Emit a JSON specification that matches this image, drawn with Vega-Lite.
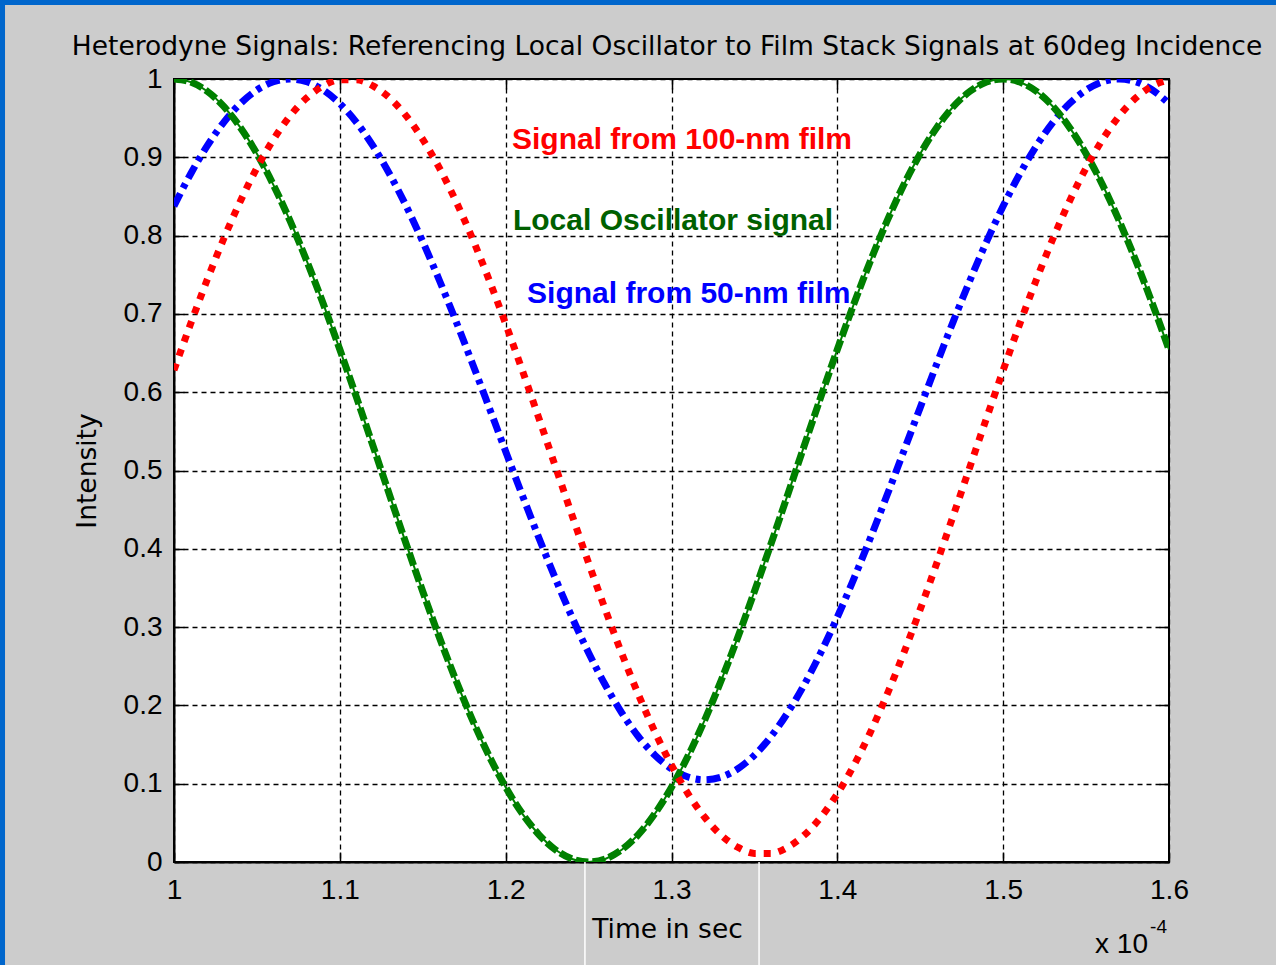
{
  "$schema": "https://vega.github.io/schema/vega-lite/v6.json",
  "width": 995,
  "height": 783,
  "autosize": {"type": "none"},
  "padding": {"left": 174, "top": 79, "right": 107, "bottom": 103},
  "background": "#cccccc",
  "config": {
    "view": {"fill": "white", "stroke": "black", "strokeWidth": 2},
    "axis": {
      "domainColor": "black",
      "domainWidth": 2,
      "tickColor": "black",
      "tickWidth": 1.5,
      "tickSize": -10,
      "labelColor": "black",
      "labelFont": "Liberation Sans",
      "labelFontSize": 28,
      "labelFlush": false,
      "labelOverlap": false,
      "titleColor": "black",
      "titleFont": "DejaVu Sans",
      "titleFontSize": 26.5,
      "titleFontWeight": "normal",
      "gridColor": "black",
      "gridOpacity": 1,
      "gridWidth": 1.3,
      "gridDash": [5, 4]
    }
  },
  "datasets": {
    "curves": [
      {"time":1.00,"series":"Local Oscillator","intensity":1.0},
      {"time":1.01,"series":"Local Oscillator","intensity":0.9961},
      {"time":1.02,"series":"Local Oscillator","intensity":0.9843},
      {"time":1.03,"series":"Local Oscillator","intensity":0.9649},
      {"time":1.04,"series":"Local Oscillator","intensity":0.9382},
      {"time":1.05,"series":"Local Oscillator","intensity":0.9045},
      {"time":1.06,"series":"Local Oscillator","intensity":0.8645},
      {"time":1.07,"series":"Local Oscillator","intensity":0.8187},
      {"time":1.08,"series":"Local Oscillator","intensity":0.7679},
      {"time":1.09,"series":"Local Oscillator","intensity":0.7129},
      {"time":1.10,"series":"Local Oscillator","intensity":0.6545},
      {"time":1.11,"series":"Local Oscillator","intensity":0.5937},
      {"time":1.12,"series":"Local Oscillator","intensity":0.5314},
      {"time":1.13,"series":"Local Oscillator","intensity":0.4686},
      {"time":1.14,"series":"Local Oscillator","intensity":0.4063},
      {"time":1.15,"series":"Local Oscillator","intensity":0.3455},
      {"time":1.16,"series":"Local Oscillator","intensity":0.2871},
      {"time":1.17,"series":"Local Oscillator","intensity":0.2321},
      {"time":1.18,"series":"Local Oscillator","intensity":0.1813},
      {"time":1.19,"series":"Local Oscillator","intensity":0.1355},
      {"time":1.20,"series":"Local Oscillator","intensity":0.0955},
      {"time":1.21,"series":"Local Oscillator","intensity":0.0618},
      {"time":1.22,"series":"Local Oscillator","intensity":0.0351},
      {"time":1.23,"series":"Local Oscillator","intensity":0.0157},
      {"time":1.24,"series":"Local Oscillator","intensity":0.0039},
      {"time":1.25,"series":"Local Oscillator","intensity":0.0},
      {"time":1.26,"series":"Local Oscillator","intensity":0.0039},
      {"time":1.27,"series":"Local Oscillator","intensity":0.0157},
      {"time":1.28,"series":"Local Oscillator","intensity":0.0351},
      {"time":1.29,"series":"Local Oscillator","intensity":0.0618},
      {"time":1.30,"series":"Local Oscillator","intensity":0.0955},
      {"time":1.31,"series":"Local Oscillator","intensity":0.1355},
      {"time":1.32,"series":"Local Oscillator","intensity":0.1813},
      {"time":1.33,"series":"Local Oscillator","intensity":0.2321},
      {"time":1.34,"series":"Local Oscillator","intensity":0.2871},
      {"time":1.35,"series":"Local Oscillator","intensity":0.3455},
      {"time":1.36,"series":"Local Oscillator","intensity":0.4063},
      {"time":1.37,"series":"Local Oscillator","intensity":0.4686},
      {"time":1.38,"series":"Local Oscillator","intensity":0.5314},
      {"time":1.39,"series":"Local Oscillator","intensity":0.5937},
      {"time":1.40,"series":"Local Oscillator","intensity":0.6545},
      {"time":1.41,"series":"Local Oscillator","intensity":0.7129},
      {"time":1.42,"series":"Local Oscillator","intensity":0.7679},
      {"time":1.43,"series":"Local Oscillator","intensity":0.8187},
      {"time":1.44,"series":"Local Oscillator","intensity":0.8645},
      {"time":1.45,"series":"Local Oscillator","intensity":0.9045},
      {"time":1.46,"series":"Local Oscillator","intensity":0.9382},
      {"time":1.47,"series":"Local Oscillator","intensity":0.9649},
      {"time":1.48,"series":"Local Oscillator","intensity":0.9843},
      {"time":1.49,"series":"Local Oscillator","intensity":0.9961},
      {"time":1.50,"series":"Local Oscillator","intensity":1.0},
      {"time":1.51,"series":"Local Oscillator","intensity":0.9961},
      {"time":1.52,"series":"Local Oscillator","intensity":0.9843},
      {"time":1.53,"series":"Local Oscillator","intensity":0.9649},
      {"time":1.54,"series":"Local Oscillator","intensity":0.9382},
      {"time":1.55,"series":"Local Oscillator","intensity":0.9045},
      {"time":1.56,"series":"Local Oscillator","intensity":0.8645},
      {"time":1.57,"series":"Local Oscillator","intensity":0.8187},
      {"time":1.58,"series":"Local Oscillator","intensity":0.7679},
      {"time":1.59,"series":"Local Oscillator","intensity":0.7129},
      {"time":1.60,"series":"Local Oscillator","intensity":0.6545},
      {"time":1.00,"series":"100-nm film","intensity":0.6281},
      {"time":1.01,"series":"100-nm film","intensity":0.6872},
      {"time":1.02,"series":"100-nm film","intensity":0.7435},
      {"time":1.03,"series":"100-nm film","intensity":0.7960},
      {"time":1.04,"series":"100-nm film","intensity":0.8439},
      {"time":1.05,"series":"100-nm film","intensity":0.8864},
      {"time":1.06,"series":"100-nm film","intensity":0.9229},
      {"time":1.07,"series":"100-nm film","intensity":0.9529},
      {"time":1.08,"series":"100-nm film","intensity":0.9758},
      {"time":1.09,"series":"100-nm film","intensity":0.9912},
      {"time":1.10,"series":"100-nm film","intensity":0.9990},
      {"time":1.11,"series":"100-nm film","intensity":0.9990},
      {"time":1.12,"series":"100-nm film","intensity":0.9912},
      {"time":1.13,"series":"100-nm film","intensity":0.9758},
      {"time":1.14,"series":"100-nm film","intensity":0.9529},
      {"time":1.15,"series":"100-nm film","intensity":0.9229},
      {"time":1.16,"series":"100-nm film","intensity":0.8864},
      {"time":1.17,"series":"100-nm film","intensity":0.8439},
      {"time":1.18,"series":"100-nm film","intensity":0.7960},
      {"time":1.19,"series":"100-nm film","intensity":0.7435},
      {"time":1.20,"series":"100-nm film","intensity":0.6872},
      {"time":1.21,"series":"100-nm film","intensity":0.6281},
      {"time":1.22,"series":"100-nm film","intensity":0.5670},
      {"time":1.23,"series":"100-nm film","intensity":0.5050},
      {"time":1.24,"series":"100-nm film","intensity":0.4430},
      {"time":1.25,"series":"100-nm film","intensity":0.3819},
      {"time":1.26,"series":"100-nm film","intensity":0.3228},
      {"time":1.27,"series":"100-nm film","intensity":0.2665},
      {"time":1.28,"series":"100-nm film","intensity":0.2140},
      {"time":1.29,"series":"100-nm film","intensity":0.1661},
      {"time":1.30,"series":"100-nm film","intensity":0.1236},
      {"time":1.31,"series":"100-nm film","intensity":0.0871},
      {"time":1.32,"series":"100-nm film","intensity":0.0571},
      {"time":1.33,"series":"100-nm film","intensity":0.0342},
      {"time":1.34,"series":"100-nm film","intensity":0.0188},
      {"time":1.35,"series":"100-nm film","intensity":0.0110},
      {"time":1.36,"series":"100-nm film","intensity":0.0110},
      {"time":1.37,"series":"100-nm film","intensity":0.0188},
      {"time":1.38,"series":"100-nm film","intensity":0.0342},
      {"time":1.39,"series":"100-nm film","intensity":0.0571},
      {"time":1.40,"series":"100-nm film","intensity":0.0871},
      {"time":1.41,"series":"100-nm film","intensity":0.1236},
      {"time":1.42,"series":"100-nm film","intensity":0.1661},
      {"time":1.43,"series":"100-nm film","intensity":0.2140},
      {"time":1.44,"series":"100-nm film","intensity":0.2665},
      {"time":1.45,"series":"100-nm film","intensity":0.3228},
      {"time":1.46,"series":"100-nm film","intensity":0.3819},
      {"time":1.47,"series":"100-nm film","intensity":0.4430},
      {"time":1.48,"series":"100-nm film","intensity":0.5050},
      {"time":1.49,"series":"100-nm film","intensity":0.5670},
      {"time":1.50,"series":"100-nm film","intensity":0.6281},
      {"time":1.51,"series":"100-nm film","intensity":0.6872},
      {"time":1.52,"series":"100-nm film","intensity":0.7435},
      {"time":1.53,"series":"100-nm film","intensity":0.7960},
      {"time":1.54,"series":"100-nm film","intensity":0.8439},
      {"time":1.55,"series":"100-nm film","intensity":0.8864},
      {"time":1.56,"series":"100-nm film","intensity":0.9229},
      {"time":1.57,"series":"100-nm film","intensity":0.9529},
      {"time":1.58,"series":"100-nm film","intensity":0.9758},
      {"time":1.59,"series":"100-nm film","intensity":0.9912},
      {"time":1.60,"series":"100-nm film","intensity":0.9990},
      {"time":1.00,"series":"50-nm film","intensity":0.8377},
      {"time":1.01,"series":"50-nm film","intensity":0.8787},
      {"time":1.02,"series":"50-nm film","intensity":0.9145},
      {"time":1.03,"series":"50-nm film","intensity":0.9447},
      {"time":1.04,"series":"50-nm film","intensity":0.9686},
      {"time":1.05,"series":"50-nm film","intensity":0.9859},
      {"time":1.06,"series":"50-nm film","intensity":0.9965},
      {"time":1.07,"series":"50-nm film","intensity":1.0},
      {"time":1.08,"series":"50-nm film","intensity":0.9965},
      {"time":1.09,"series":"50-nm film","intensity":0.9859},
      {"time":1.10,"series":"50-nm film","intensity":0.9686},
      {"time":1.11,"series":"50-nm film","intensity":0.9447},
      {"time":1.12,"series":"50-nm film","intensity":0.9145},
      {"time":1.13,"series":"50-nm film","intensity":0.8787},
      {"time":1.14,"series":"50-nm film","intensity":0.8377},
      {"time":1.15,"series":"50-nm film","intensity":0.7923},
      {"time":1.16,"series":"50-nm film","intensity":0.7430},
      {"time":1.17,"series":"50-nm film","intensity":0.6908},
      {"time":1.18,"series":"50-nm film","intensity":0.6364},
      {"time":1.19,"series":"50-nm film","intensity":0.5806},
      {"time":1.20,"series":"50-nm film","intensity":0.5244},
      {"time":1.21,"series":"50-nm film","intensity":0.4686},
      {"time":1.22,"series":"50-nm film","intensity":0.4142},
      {"time":1.23,"series":"50-nm film","intensity":0.3620},
      {"time":1.24,"series":"50-nm film","intensity":0.3127},
      {"time":1.25,"series":"50-nm film","intensity":0.2673},
      {"time":1.26,"series":"50-nm film","intensity":0.2263},
      {"time":1.27,"series":"50-nm film","intensity":0.1905},
      {"time":1.28,"series":"50-nm film","intensity":0.1603},
      {"time":1.29,"series":"50-nm film","intensity":0.1364},
      {"time":1.30,"series":"50-nm film","intensity":0.1191},
      {"time":1.31,"series":"50-nm film","intensity":0.1085},
      {"time":1.32,"series":"50-nm film","intensity":0.1050},
      {"time":1.33,"series":"50-nm film","intensity":0.1085},
      {"time":1.34,"series":"50-nm film","intensity":0.1191},
      {"time":1.35,"series":"50-nm film","intensity":0.1364},
      {"time":1.36,"series":"50-nm film","intensity":0.1603},
      {"time":1.37,"series":"50-nm film","intensity":0.1905},
      {"time":1.38,"series":"50-nm film","intensity":0.2263},
      {"time":1.39,"series":"50-nm film","intensity":0.2673},
      {"time":1.40,"series":"50-nm film","intensity":0.3127},
      {"time":1.41,"series":"50-nm film","intensity":0.3620},
      {"time":1.42,"series":"50-nm film","intensity":0.4142},
      {"time":1.43,"series":"50-nm film","intensity":0.4686},
      {"time":1.44,"series":"50-nm film","intensity":0.5244},
      {"time":1.45,"series":"50-nm film","intensity":0.5806},
      {"time":1.46,"series":"50-nm film","intensity":0.6364},
      {"time":1.47,"series":"50-nm film","intensity":0.6908},
      {"time":1.48,"series":"50-nm film","intensity":0.7430},
      {"time":1.49,"series":"50-nm film","intensity":0.7923},
      {"time":1.50,"series":"50-nm film","intensity":0.8377},
      {"time":1.51,"series":"50-nm film","intensity":0.8787},
      {"time":1.52,"series":"50-nm film","intensity":0.9145},
      {"time":1.53,"series":"50-nm film","intensity":0.9447},
      {"time":1.54,"series":"50-nm film","intensity":0.9686},
      {"time":1.55,"series":"50-nm film","intensity":0.9859},
      {"time":1.56,"series":"50-nm film","intensity":0.9965},
      {"time":1.57,"series":"50-nm film","intensity":1.0},
      {"time":1.58,"series":"50-nm film","intensity":0.9965},
      {"time":1.59,"series":"50-nm film","intensity":0.9859},
      {"time":1.60,"series":"50-nm film","intensity":0.9686}
    ],
    "notes": [
      {"time":1.2038,"intensity":0.9106,"series":"100-nm film","label":"Signal from 100-nm film"},
      {"time":1.2044,"intensity":0.8072,"series":"Local Oscillator","label":"Local Oscillator signal"},
      {"time":1.2129,"intensity":0.7139,"series":"50-nm film","label":"Signal from 50-nm film"}
    ]
  },
  "resolve": {"axis": {"x": "independent", "y": "independent"}},
  "layer": [
    {
      "data": {"name": "curves"},
      "transform": [{"filter": "datum.series === '50-nm film'"}],
      "mark": {"type": "line", "color": "#0000ff", "strokeWidth": 7, "strokeDash": [14, 6, 5, 6], "strokeCap": "butt", "clip": true, "interpolate": "monotone"},
      "encoding": {
        "x": {"field": "time", "type": "quantitative", "scale": {"domain": [1, 1.6], "nice": false, "zero": false},
          "axis": {"orient": "bottom", "values": [1, 1.1, 1.2, 1.3, 1.4, 1.5, 1.6], "format": "~g", "grid": true, "labelPadding": 24, "title": "Time in sec", "titleY": 75, "titleX": 493, "titleBaseline": "alphabetic"}},
        "y": {"field": "intensity", "type": "quantitative", "scale": {"domain": [0, 1], "nice": false, "zero": false},
          "axis": {"orient": "left", "values": [0, 0.1, 0.2, 0.3, 0.4, 0.5, 0.6, 0.7, 0.8, 0.9, 1], "format": "~g", "grid": true, "labelPadding": 22, "title": "Intensity", "titleX": -79, "titleBaseline": "alphabetic"}}
      }
    },
    {
      "data": {"name": "curves"},
      "transform": [{"filter": "datum.series === 'Local Oscillator'"}],
      "mark": {"type": "line", "color": "#008000", "strokeWidth": 2, "clip": true, "interpolate": "monotone"},
      "encoding": {
        "x": {"field": "time", "type": "quantitative",
          "axis": {"orient": "top", "values": [1, 1.1, 1.2, 1.3, 1.4, 1.5, 1.6], "labels": false, "grid": false, "domain": false, "title": null}},
        "y": {"field": "intensity", "type": "quantitative",
          "axis": {"orient": "right", "values": [0, 0.1, 0.2, 0.3, 0.4, 0.5, 0.6, 0.7, 0.8, 0.9, 1], "labels": false, "grid": false, "domain": false, "title": null}}
      }
    },
    {
      "data": {"name": "curves"},
      "transform": [{"filter": "datum.series === 'Local Oscillator'"}],
      "mark": {"type": "line", "color": "#008000", "strokeWidth": 7, "strokeDash": [13, 4], "strokeCap": "butt", "clip": true, "interpolate": "monotone"},
      "encoding": {
        "x": {"field": "time", "type": "quantitative", "axis": null},
        "y": {"field": "intensity", "type": "quantitative", "axis": null}
      }
    },
    {
      "data": {"name": "curves"},
      "transform": [{"filter": "datum.series === '100-nm film'"}],
      "mark": {"type": "line", "color": "#ff0000", "strokeWidth": 7, "strokeDash": [7, 8], "strokeCap": "butt", "clip": true, "interpolate": "monotone"},
      "encoding": {
        "x": {"field": "time", "type": "quantitative", "axis": null},
        "y": {"field": "intensity", "type": "quantitative", "axis": null}
      }
    },
    {
      "data": {"name": "notes"},
      "mark": {"type": "text", "font": "Liberation Sans", "fontSize": 30, "fontWeight": "bold", "align": "left", "baseline": "alphabetic"},
      "encoding": {
        "x": {"field": "time", "type": "quantitative", "axis": null},
        "y": {"field": "intensity", "type": "quantitative", "axis": null},
        "text": {"field": "label"},
        "color": {"field": "series", "type": "nominal", "legend": null,
          "scale": {"domain": ["100-nm film", "Local Oscillator", "50-nm film"], "range": ["#ff0000", "#006000", "#0000ff"]}}
      }
    },
    {
      "data": {"values": [{"label": "Heterodyne Signals: Referencing Local Oscillator to Film Stack Signals at 60deg Incidence"}]},
      "mark": {"type": "text", "font": "DejaVu Sans", "fontSize": 26.5, "align": "center", "baseline": "alphabetic", "color": "black", "clip": false},
      "encoding": {
        "x": {"datum": 1.2973, "type": "quantitative", "axis": null},
        "y": {"datum": 1.0307, "type": "quantitative", "axis": null},
        "text": {"field": "label"}
      }
    },
    {
      "data": {"values": [{"label": "x 10"}]},
      "mark": {"type": "text", "font": "Liberation Sans", "fontSize": 28, "align": "left", "baseline": "alphabetic", "color": "black", "clip": false},
      "encoding": {
        "x": {"datum": 1.5554, "type": "quantitative", "axis": null},
        "y": {"datum": -0.1162, "type": "quantitative", "axis": null},
        "text": {"field": "label"}
      }
    },
    {
      "data": {"values": [{"label": "-4"}]},
      "mark": {"type": "text", "font": "Liberation Sans", "fontSize": 19, "align": "left", "baseline": "alphabetic", "color": "black", "clip": false},
      "encoding": {
        "x": {"datum": 1.5886, "type": "quantitative", "axis": null},
        "y": {"datum": -0.0907, "type": "quantitative", "axis": null},
        "text": {"field": "label"}
      }
    },
    {
      "data": {"values": [{"time": 1.2478}, {"time": 1.3528}]},
      "mark": {"type": "rule", "color": "white", "strokeWidth": 1.5, "clip": false},
      "encoding": {
        "x": {"field": "time", "type": "quantitative", "axis": null},
        "y": {"datum": 0, "type": "quantitative", "axis": null},
        "y2": {"datum": -0.1316}
      }
    },
    {
      "data": {"values": [{"edge": "left"}]},
      "mark": {"type": "rect", "color": "#0066cc", "clip": false},
      "encoding": {
        "x": {"datum": 0.8950, "type": "quantitative", "axis": null},
        "x2": {"datum": 0.8981},
        "y": {"datum": -0.1316, "type": "quantitative", "axis": null},
        "y2": {"datum": 1.1009}
      }
    },
    {
      "data": {"values": [{"edge": "top"}]},
      "mark": {"type": "rect", "color": "#0066cc", "clip": false},
      "encoding": {
        "x": {"datum": 0.8950, "type": "quantitative", "axis": null},
        "x2": {"datum": 1.6646},
        "y": {"datum": 1.0945, "type": "quantitative", "axis": null},
        "y2": {"datum": 1.1009}
      }
    }
  ]
}
